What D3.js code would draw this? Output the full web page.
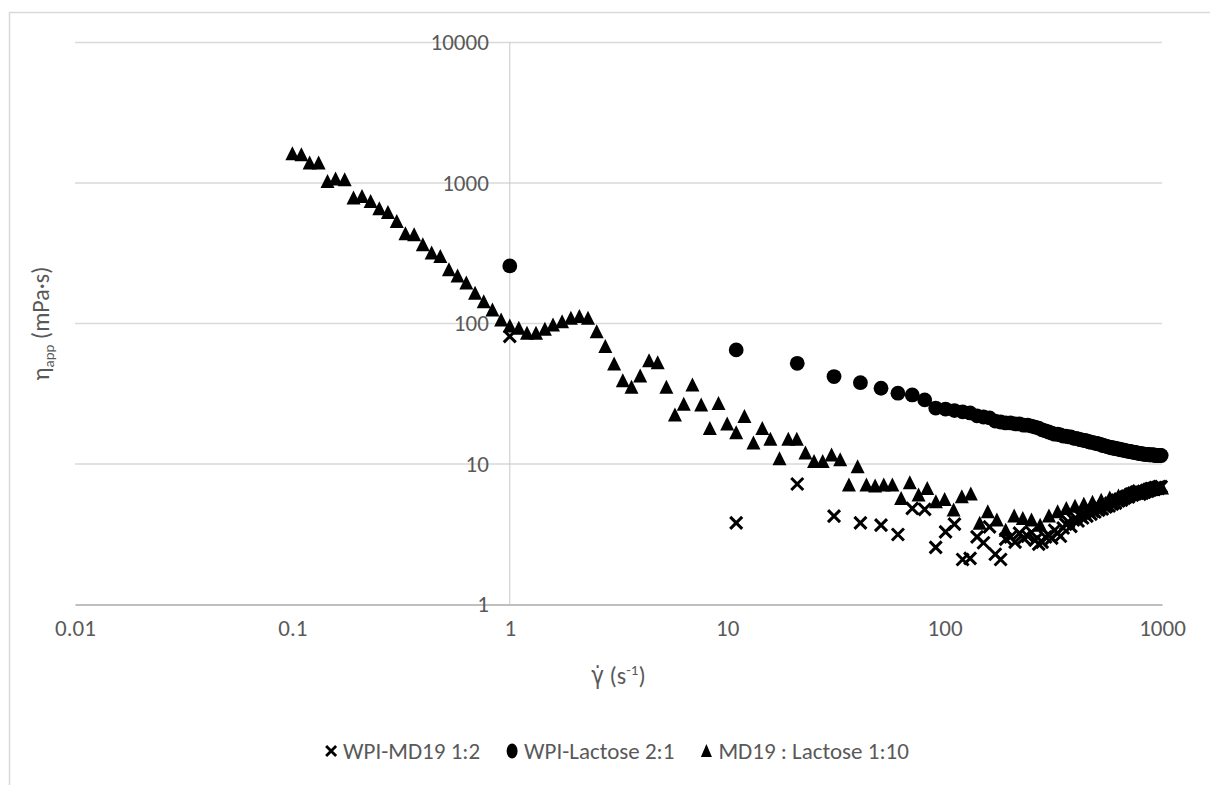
<!DOCTYPE html>
<html>
<head>
<meta charset="utf-8">
<script src="https://cdn.jsdelivr.net/npm/d3@7"></script>
<style>
  html, body { margin: 0; padding: 0; background: #fff; }
  svg { display: block; }
  text { font-family: Carlito, Calibri, 'Liberation Sans Narrow', 'DejaVu Sans Condensed', sans-serif; fill: #595959; }
</style>
</head>
<body>
<svg id="chart" width="1210" height="785"></svg>
<script>

// shear rates of the log ramp (MD19 : Lactose 1:10)
var rateLog = [0.1, 0.11, 0.12, 0.132, 0.145, 0.158, 0.174, 0.191, 0.209, 0.229,
    0.251, 0.275, 0.302, 0.331, 0.363, 0.398, 0.437, 0.479, 0.525, 0.575,
    0.631, 0.692, 0.759, 0.832, 0.912, 1, 1.1, 1.2, 1.32, 1.45,
    1.58, 1.74, 1.91, 2.09, 2.29, 2.51, 2.75, 3.02, 3.31, 3.63,
    3.98, 4.37, 4.79, 5.25, 5.75, 6.31, 6.92, 7.59, 8.32, 9.12,
    10, 11, 12, 13.2, 14.5, 15.8, 17.4, 19.1, 20.9, 22.9,
    25.1, 27.5, 30.2, 33.1, 36.3, 39.8, 43.7, 47.9, 52.5, 57.5,
    63.1, 69.2, 75.9, 83.2, 91.2, 100, 110, 120, 132, 145,
    158, 174, 191, 209, 229, 251, 275, 302, 331, 363,
    398, 437, 479, 525, 575, 631, 692, 759, 832, 912, 1000];

var viscMD19 = [1616, 1589, 1387, 1387, 1026, 1067, 1055, 781, 802, 739,
    656, 617, 532, 435, 428, 363, 317, 300, 241, 218,
    194, 164, 143, 125, 106, 96, 92.5, 85.3, 85.3, 91,
    97.7, 103, 109, 112, 109, 87.5, 68.5, 51.5, 39.2, 35.2,
    42.3, 54.2, 52.6, 35.2, 22.3, 26.6, 36.5, 26.3, 17.9, 27.0,
    19.3, 16.7, 21.8, 14.1, 17.9, 15.0, 10.9, 15.0, 15.0, 12.0,
    10.4, 10.4, 11.6, 10.7, 7.08, 9.56, 7.08, 6.96, 7.08, 7.08,
    5.69, 7.35, 6.01, 6.70, 5.38, 5.60, 4.70, 5.84, 6.11, 3.78,
    4.57, 3.99, 3.38, 4.26, 4.10, 3.99, 3.67, 4.26, 4.57, 4.83,
    5.0, 5.18, 5.35, 5.53, 5.72, 5.91, 6.06, 6.21, 6.42, 6.58, 6.74];

// shear rates of the linear ramp (both WPI samples)
var rateLin = [1, 11, 21, 31, 41, 51, 61, 71, 81, 91,
    101, 111, 121, 131, 141, 151, 161, 171, 181, 191,
    201, 211, 221, 231, 241, 251, 261, 271, 281, 291,
    301, 311, 321, 331, 341, 351, 361, 371, 381, 391,
    401, 411, 421, 431, 441, 451, 461, 471, 481, 491,
    501, 511, 521, 531, 541, 551, 561, 571, 581, 591,
    601, 611, 621, 631, 641, 651, 661, 671, 681, 691,
    701, 711, 721, 731, 741, 751, 761, 771, 781, 791,
    801, 811, 821, 831, 841, 851, 861, 871, 881, 891,
    901, 911, 921, 931, 941, 951, 961, 971, 981, 991];

var viscWPIMD = [81, 3.81, 7.2, 4.26, 3.81, 3.67, 3.15, 4.83, 4.75, 2.55,
    3.29, 3.73, 2.09, 2.13, 3.03, 2.75, 3.57, 2.28, 2.09, 2.92,
    3.02, 2.78, 3.22, 2.97, 3.06, 3.27, 2.87, 2.69, 2.78, 3.02,
    3.12, 2.97, 3.38, 3.22, 3.06, 3.50, 3.73, 3.86, 3.60, 3.99,
    4.13, 3.93, 4.26, 4.13, 4.40, 4.26, 4.55, 4.40, 4.62, 4.55,
    4.78, 4.70, 4.86, 4.78, 5.02, 4.94, 5.10, 5.02, 5.27, 5.18,
    5.35, 5.27, 5.53, 5.45, 5.62, 5.53, 5.72, 5.72, 5.82, 5.91,
    5.82, 6.01, 6.11, 6.01, 6.21, 6.11, 6.31, 6.21, 6.42, 6.1,
    6.3, 6.2, 6.4, 6.3, 6.4, 6.5, 6.4, 6.6, 6.5, 6.7,
    6.6, 6.7, 6.6, 6.8, 6.7, 6.8, 6.7, 6.9, 6.8, 6.9];

var viscWPILac = [257, 64.9, 52.1, 41.9, 37.9, 34.6, 31.9, 31.0, 28.6, 25.0,
    24.6, 24.0, 23.5, 23.1, 22.0, 21.6, 21.3, 20.2, 19.9, 19.6,
    19.6, 19.3, 19.3, 18.9, 18.9, 18.6, 18.3, 18.0, 17.5, 17.2,
    16.9, 16.6, 16.3, 16.3, 16.1, 15.8, 15.8, 15.6, 15.6, 15.3,
    15.2, 15.1, 14.9, 14.8, 14.7, 14.6, 14.4, 14.3, 14.2, 14.1,
    14.0, 13.9, 13.8, 13.6, 13.5, 13.4, 13.3, 13.2, 13.1, 13.0,
    13.0, 12.9, 12.8, 12.8, 12.7, 12.6, 12.6, 12.5, 12.4, 12.4,
    12.3, 12.3, 12.2, 12.2, 12.1, 12.1, 12.0, 12.0, 11.9, 11.9,
    11.8, 11.8, 11.8, 11.7, 11.7, 11.7, 11.7, 11.6, 11.6, 11.6,
    11.6, 11.6, 11.6, 11.5, 11.5, 11.5, 11.5, 11.5, 11.5, 11.5];

var seriesNames = ['WPI-MD19 1:2', 'WPI-Lactose 2:1', 'MD19 : Lactose 1:10'];
var xTicks = [0.01, 0.1, 1, 10, 100, 1000];
var xTickLabels = ['0.01', '0.1', '1', '10', '100', '1000'];
var yTicks = [1, 10, 100, 1000, 10000];
var yTickLabels = ['1', '10', '100', '1000', '10000'];

var svg = d3.select('#chart');

var x = d3.scaleLog().domain([0.01, 1000]).range([75, 1162]);
var y = d3.scaleLog().domain([1, 10000]).range([604.5, 42.5]);

// chart area border (only top and left edges are in the picture)
svg.append('path')
    .attr('d', 'M9.5,785 V12.5 H1210')
    .attr('fill', 'none')
    .attr('stroke', '#d9d9d9')
    .attr('stroke-width', 1.5);

// horizontal gridlines
svg.append('g')
    .selectAll('line')
    .data(yTicks.slice(1))
    .enter().append('line')
    .attr('x1', x(0.01))
    .attr('x2', x(1000))
    .attr('y1', function (d) { return y(d); })
    .attr('y2', function (d) { return y(d); })
    .attr('stroke', '#d9d9d9')
    .attr('stroke-width', 1.5);

// vertical axis crossing at x = 1
svg.append('line')
    .attr('x1', x(1))
    .attr('x2', x(1))
    .attr('y1', y(10000))
    .attr('y2', y(1))
    .attr('stroke', '#c8c8c8')
    .attr('stroke-width', 1);

// x axis
var xAxis = svg.append('g')
    .attr('transform', 'translate(0,' + y(1) + ')')
    .call(d3.axisBottom(x)
        .tickValues(xTicks)
        .tickSize(0)
        .tickPadding(15)
        .tickFormat(function (d, i) { return xTickLabels[i]; }));

xAxis.select('.domain')
    .attr('stroke', '#bfbfbf')
    .attr('stroke-width', 1.8);

xAxis.selectAll('text')
    .attr('font-size', 23)
    .attr('fill', '#595959');

// y axis labels, placed left of the x = 1 line
var yAxis = svg.append('g')
    .attr('transform', 'translate(' + x(1) + ',0)')
    .call(d3.axisLeft(y)
        .tickValues(yTicks)
        .tickSize(0)
        .tickPadding(21)
        .tickFormat(function (d, i) { return yTickLabels[i]; }));

yAxis.select('.domain').remove();

yAxis.selectAll('text')
    .attr('font-size', 23)
    .attr('fill', '#595959');

svg.selectAll('.tick text').attr('font-family', null);

// axis titles
var xTitle = svg.append('text')
    .attr('x', (x(0.01) + x(1000)) / 2)
    .attr('y', 684)
    .attr('text-anchor', 'middle')
    .attr('font-size', 24);

xTitle.append('tspan').text('\u03b3\u0307 (s');
xTitle.append('tspan').attr('font-size', 15).attr('dy', -9).text('-1');
xTitle.append('tspan').attr('dy', 9).text(')');

var yTitle = svg.append('text')
    .attr('transform', 'translate(49,' + ((y(1) + y(10000)) / 2) + ') rotate(-90)')
    .attr('text-anchor', 'middle')
    .attr('font-size', 24);

yTitle.append('tspan').text('\u03b7');
yTitle.append('tspan').attr('font-size', 15).attr('dy', 5).text('app');
yTitle.append('tspan').attr('dy', -5).text(' (mPa\u00b7s)');

// markers
var crossPath = 'M-6,-6L6,6M6,-6L-6,6';
var triPath = 'M0,-7.5L7,6.5L-7,6.5Z';

var toPoints = function (rates, values) {
    return rates.map(function (r, i) { return [r, values[i]]; });
};

svg.append('g')
    .selectAll('path')
    .data(toPoints(rateLin, viscWPIMD))
    .enter().append('path')
    .attr('d', crossPath)
    .attr('transform', function (d) { return 'translate(' + x(d[0]) + ',' + y(d[1]) + ')'; })
    .attr('fill', 'none')
    .attr('stroke', '#000')
    .attr('stroke-width', 3);

svg.append('g')
    .selectAll('circle')
    .data(toPoints(rateLin, viscWPILac))
    .enter().append('circle')
    .attr('cx', function (d) { return x(d[0]); })
    .attr('cy', function (d) { return y(d[1]); })
    .attr('r', 7.4)
    .attr('fill', '#000');

svg.append('g')
    .selectAll('path')
    .data(toPoints(rateLog, viscMD19))
    .enter().append('path')
    .attr('d', triPath)
    .attr('transform', function (d) { return 'translate(' + x(d[0]) + ',' + y(d[1]) + ')'; })
    .attr('fill', '#000');

// legend
var legend = svg.append('g');
var legendY = 751;
var items = legend.selectAll('g')
    .data(seriesNames)
    .enter().append('g');

items.each(function (d, i) {
    var g = d3.select(this);
    if (i === 0) {
        g.append('path').attr('d', 'M-5,-5L5,5M5,-5L-5,5')
            .attr('fill', 'none').attr('stroke', '#000').attr('stroke-width', 2.8);
    } else if (i === 1) {
        g.append('ellipse').attr('rx', 5.5).attr('ry', 7.5).attr('fill', '#000');
    } else {
        g.append('path').attr('d', 'M0,-7L5.5,6L-5.5,6Z').attr('fill', '#000');
    }
    g.append('text')
        .attr('x', 12)
        .attr('y', 8)
        .attr('font-size', 23)
        .text(d);
});

var widths = [];
items.each(function () {
    widths.push(d3.select(this).select('text').node().getComputedTextLength() + 12);
});
var gap = 32;
var total = d3.sum(widths) + gap * (widths.length - 1) + 6;
var start = 617 - total / 2 + 6;
items.attr('transform', function (d, i) {
    var off = d3.sum(widths.slice(0, i)) + gap * i;
    return 'translate(' + (start + off) + ',' + legendY + ')';
});

</script>
</body>
</html>
